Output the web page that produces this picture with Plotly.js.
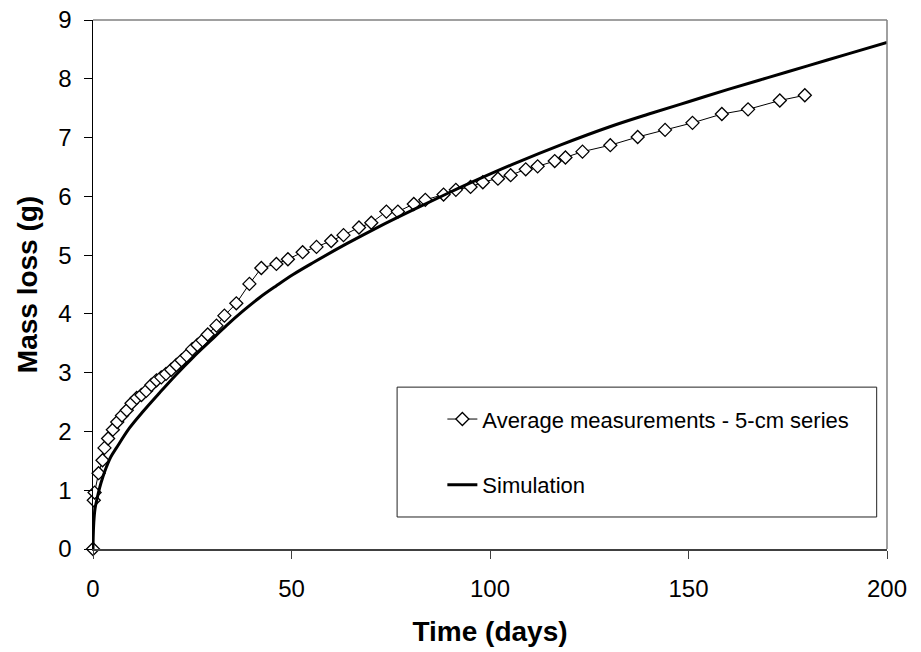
<!DOCTYPE html>
<html>
<head>
<meta charset="utf-8">
<script src="https://cdn.plot.ly/plotly-3.0.1.min.js"></script>
<style>html,body{margin:0;padding:0;background:#fff;}#chart{width:921px;height:652px;}</style>
</head>
<body>
<div id="chart"></div>
<script>
// Average measurements - 5-cm series
const measDays = [0, 0.2, 0.4, 1.4, 2.4, 2.9, 3.8, 5.0, 6.1, 7.3, 8.5, 9.7, 11.0, 12.2, 13.4, 14.7, 16.0, 17.2, 18.4, 19.7, 21.0, 22.3, 23.6, 25.0, 26.3, 27.6, 28.9, 31.1, 33.1, 36.1, 39.4, 42.4, 46.2, 49.1, 52.8, 56.3, 60.0, 63.1, 67.0, 70.1, 73.9, 76.8, 80.8, 83.7, 88.3, 91.4, 95.1, 98.2, 102.0, 105.2, 109.0, 112.0, 116.3, 119.0, 123.3, 130.3, 137.2, 144.1, 151.0, 158.4, 165.0, 173.0, 179.3];
const measLoss = [0, 0.83, 0.96, 1.29, 1.51, 1.72, 1.88, 2.03, 2.16, 2.27, 2.36, 2.48, 2.57, 2.62, 2.69, 2.79, 2.87, 2.92, 2.98, 3.05, 3.13, 3.21, 3.29, 3.40, 3.47, 3.55, 3.65, 3.80, 3.97, 4.18, 4.51, 4.78, 4.85, 4.93, 5.05, 5.14, 5.24, 5.34, 5.47, 5.55, 5.74, 5.74, 5.87, 5.94, 6.03, 6.11, 6.16, 6.24, 6.30, 6.36, 6.46, 6.51, 6.60, 6.66, 6.76, 6.87, 7.01, 7.13, 7.25, 7.40, 7.48, 7.63, 7.72];

// Simulation
const simDays = [0, 0.05, 0.2, 0.5, 1, 1.7, 2.5, 3.4, 4.5, 5.9, 9.2, 12.6, 16.8, 21, 25.2, 29.4, 33.6, 37.8, 42, 46.2, 50.4, 55.4, 63.8, 72.2, 80.6, 89, 97.4, 106.6, 118, 130, 140, 150, 160, 170, 180, 190, 200];
const simLoss = [0, 0.2, 0.45, 0.68, 0.85, 1.05, 1.23, 1.4, 1.57, 1.72, 2.06, 2.34, 2.66, 2.97, 3.26, 3.53, 3.8, 4.05, 4.28, 4.48, 4.67, 4.87, 5.19, 5.49, 5.77, 6.04, 6.3, 6.57, 6.88, 7.18, 7.4, 7.61, 7.82, 8.02, 8.22, 8.42, 8.62];

const xTicks = [0, 50, 100, 150, 200];
const yTicks = [0, 1, 2, 3, 4, 5, 6, 7, 8, 9];

const FONT = 'Liberation Sans, Arial, sans-serif';

const traces = [
  {
    x: measDays, y: measLoss, type: 'scatter', mode: 'lines+markers',
    name: 'Average measurements - 5-cm series',
    line: {color: '#000', width: 1},
    marker: {symbol: 'diamond', size: 10, color: '#fff', line: {color: '#000', width: 1.3}},
    legendgroup: 'a', cliponaxis: false
  },
  {
    x: simDays, y: simLoss, type: 'scatter', mode: 'lines',
    name: 'Simulation',
    line: {color: '#000', width: 3, shape: 'spline', smoothing: 1},
    legendgroup: 'b'
  }
];

const layout = {
  width: 921, height: 652,
  margin: {l: 93, r: 34, t: 20, b: 103},
  paper_bgcolor: '#fff', plot_bgcolor: '#fff',
  font: {family: FONT, color: '#000'},
  showlegend: true,
  legend: {
    x: 0.44, y: 0.285, xanchor: 'left', yanchor: 'top',
    bgcolor: 'rgba(0,0,0,0)', borderwidth: 0,
    font: {family: FONT, size: 22, color: '#000'},
    traceorder: 'grouped', tracegroupgap: 34
  },
  xaxis: {
    range: [0, 200], tickvals: xTicks, ticktext: xTicks.map(String),
    showgrid: false, zeroline: false,
    showline: true, linecolor: '#404040', linewidth: 1.5,
    ticks: 'outside', ticklen: 8, tickcolor: '#404040',
    ticklabelstandoff: 10,
    tickfont: {family: FONT, size: 24, color: '#000'},
    title: {text: 'Time (days)', font: {family: FONT, size: 28, color: '#000', weight: 'bold'}, standoff: 20}
  },
  yaxis: {
    range: [0, 9], tickvals: yTicks, ticktext: yTicks.map(String),
    showgrid: false, zeroline: false,
    showline: true, linecolor: '#000', linewidth: 1.5,
    ticks: 'outside', ticklen: 8, tickcolor: '#000',
    ticklabelstandoff: 7,
    tickfont: {family: FONT, size: 24, color: '#000'},
    title: {text: 'Mass loss (g)', font: {family: FONT, size: 28, color: '#000', weight: 'bold'}, standoff: 12}
  },
  shapes: [
    {type: 'line', xref: 'paper', yref: 'paper', x0: 0, x1: 1, y0: 1, y1: 1, line: {color: '#808080', width: 1.5}},
    {type: 'line', xref: 'paper', yref: 'paper', x0: 1, x1: 1, y0: 0, y1: 1, line: {color: '#808080', width: 1.5}},
    {type: 'rect', xref: 'paper', yref: 'paper', x0: 0.383, x1: 0.987, y0: 0.0605, y1: 0.306, line: {color: '#222', width: 1}, fillcolor: 'rgba(0,0,0,0)', layer: 'above'}
  ]
};

Plotly.newPlot('chart', traces, layout, {displayModeBar: false, staticPlot: true});
</script>
</body>
</html>
